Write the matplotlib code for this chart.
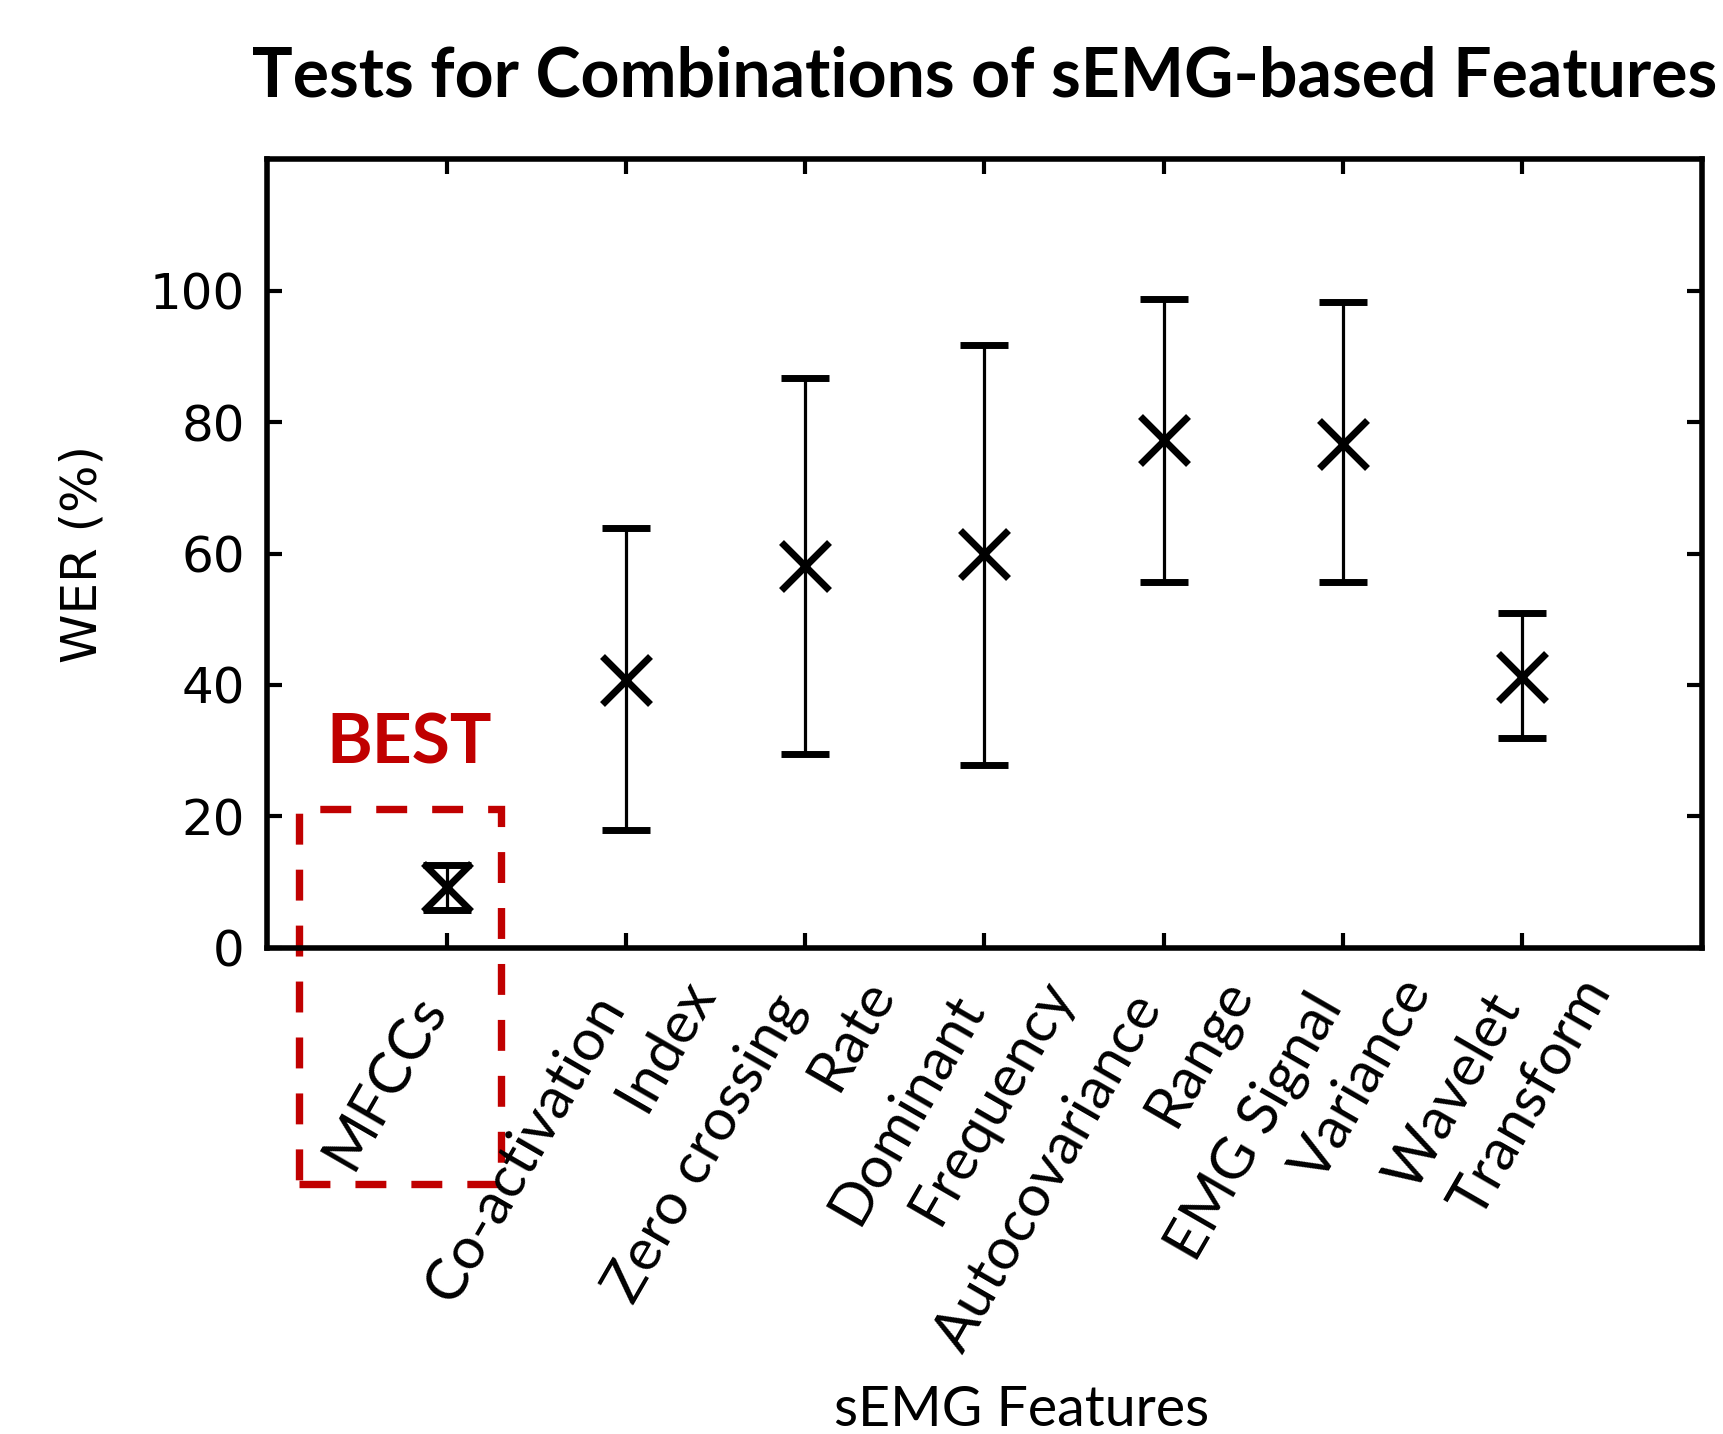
import numpy as np
import matplotlib
matplotlib.use("Agg")
import matplotlib.pyplot as plt
from matplotlib.patches import Rectangle

# values (WER in %)
features = ["MFCCs", "Co-activation\nIndex", "Zero crossing\nRate", "Dominant\nFrequency",
            "Autocovariance\nRange", "EMG Signal\nVariance", "Wavelet\nTransform"]
wer_mean = [9.2, 40.7, 58.1, 59.9, 77.2, 76.7, 41.2]
wer_low = [5.8, 18.0, 29.5, 27.9, 55.7, 55.7, 32.0]
wer_high = [12.6, 63.9, 86.7, 91.8, 98.8, 98.2, 51.0]
yticks = [0, 20, 40, 60, 80, 100]

plt.rcParams["font.family"] = "DejaVu Sans"
plt.rcParams["font.size"] = 36
label_font = ["Lato", "DejaVu Sans"]

fig = plt.figure(figsize=(17.24, 14.34), dpi=100)
ax = fig.add_axes([0.155, 0.339, 0.832, 0.550])

x = np.arange(1, len(features) + 1)
mean = np.array(wer_mean)
yerr = [mean - np.array(wer_low), np.array(wer_high) - mean]

ax.errorbar(x, mean, yerr=yerr, fmt='x', color='k', ms=34, mew=5,
            elinewidth=2.3, capsize=17, capthick=5.5)

ax.set_xlim(0, 8)
ax.set_ylim(0, 120)
ax.set_yticks(yticks)
ax.set_xticks(x)
ax.tick_params(direction="in", length=11, width=3, top=True, right=True,
               labelsize=36, labelbottom=False)
ax.tick_params(axis="y", pad=16)

# rotated two-line category labels, second line shifted half a step right
xaxis_tr = ax.get_xaxis_transform()
for xi, name in zip(x, features):
    lines = name.split("\n")
    ax.text(xi, -0.075, lines[0], transform=xaxis_tr, rotation=60, ha="right",
            va="baseline", rotation_mode="anchor", fontsize=42, family=label_font)
    if len(lines) > 1:
        ax.text(xi + 0.5, -0.055, lines[1], transform=xaxis_tr, rotation=60, ha="right",
                va="baseline", rotation_mode="anchor", fontsize=42, family=label_font)

for sp in ax.spines.values():
    sp.set_linewidth(4)

ax.set_ylabel("WER (%)", fontsize=36, va="center")
ax.yaxis.set_label_coords(-0.129, 0.5)
ax.set_xlabel("sEMG Features", fontsize=40, family=label_font, va="baseline")
ax.xaxis.set_label_coords(0.526, -0.606)

ax.set_title("Tests for Combinations of sEMG-based Features", fontsize=49,
             fontweight="bold", family=label_font, pad=45)

# highlight box around the best feature
ax.add_patch(Rectangle((0.18, -36), 1.125, 57.1, fill=False, edgecolor="#C00000",
                       linewidth=5.3, linestyle=(0, (4.2, 3.4)), clip_on=False))
ax.text(0.79, 28, "BEST", color="#C00000", fontsize=50, fontweight="bold",
        family=label_font, ha="center", va="baseline")

fig.savefig("out.png", dpi=100)
